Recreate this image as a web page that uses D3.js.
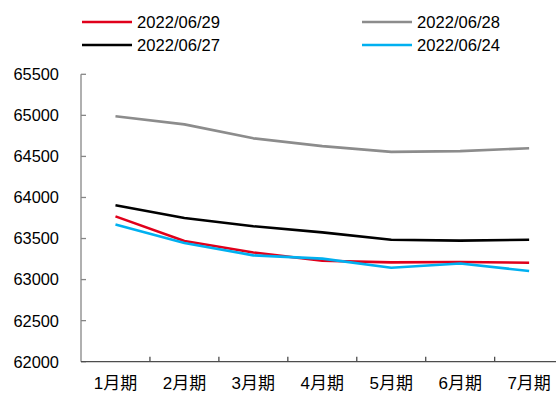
<!DOCTYPE html>
<html>
<head>
<meta charset="utf-8">
<script src="https://cdn.jsdelivr.net/npm/d3@7"></script>
<style>
  html, body { margin: 0; padding: 0; background: #fff; }
  svg { display: block; }
  text { font-family: "Liberation Sans", "Noto Sans CJK SC", sans-serif; fill: #000; }
</style>
</head>
<body>
<svg id="chart" width="556" height="394"></svg>
<script>
// Contract months on the x axis
const categories = ["1月期", "2月期", "3月期", "4月期", "5月期", "6月期", "7月期"];

// Curve snapshots by trade date
const seriesNames = ["2022/06/29", "2022/06/28", "2022/06/27", "2022/06/24"];
const values0629 = [63770, 63470, 63330, 63230, 63210, 63215, 63205];
const values0628 = [64990, 64890, 64720, 64625, 64555, 64565, 64600];
const values0627 = [63905, 63750, 63650, 63575, 63485, 63475, 63485];
const values0624 = [63670, 63445, 63295, 63255, 63145, 63195, 63105];
const seriesColors = ["#e0001b", "#8c8c8c", "#000000", "#00b0f0"];

// Y axis ticks
const yTicks = [62000, 62500, 63000, 63500, 64000, 64500, 65000, 65500];

const seriesValues = [values0629, values0628, values0627, values0624];
const series = seriesNames.map((name, i) => ({ name, values: seriesValues[i], color: seriesColors[i] }));

const svg = d3.select("#chart");
const plotLeft = 81, plotTop = 74.3, plotBottom = 361.7, plotRight = 563.6;

const x = d3.scaleBand().domain(categories).range([plotLeft, plotRight]).paddingInner(0).paddingOuter(0);
const y = d3.scaleLinear().domain([62000, 65500]).range([plotBottom, plotTop]);
const cx = c => x(c) + x.bandwidth() / 2;

const axisColor = "#868686";

// Y axis line and inward ticks
svg.append("line")
  .attr("x1", plotLeft).attr("x2", plotLeft).attr("y1", y(65500)).attr("y2", y(62000))
  .attr("stroke", axisColor).attr("stroke-width", 1.3);
svg.append("g").selectAll("line").data(yTicks).join("line")
  .attr("x1", plotLeft).attr("x2", plotLeft + 5)
  .attr("y1", d => y(d)).attr("y2", d => y(d))
  .attr("stroke", axisColor).attr("stroke-width", 1.3);
svg.append("g").selectAll("text").data(yTicks).join("text")
  .attr("x", 59).attr("y", d => y(d)).attr("dy", "0.36em")
  .attr("text-anchor", "end").attr("font-size", 16.4)
  .text(d => d);

// X axis line with ticks between categories
svg.append("line")
  .attr("x1", plotLeft).attr("x2", plotRight).attr("y1", plotBottom).attr("y2", plotBottom)
  .attr("stroke", "#4d4d4d").attr("stroke-width", 1.3);
svg.append("g").selectAll("line").data(categories.slice(1)).join("line")
  .attr("x1", d => x(d)).attr("x2", d => x(d))
  .attr("y1", plotBottom).attr("y2", plotBottom - 5)
  .attr("stroke", "#4d4d4d").attr("stroke-width", 1.3);
const xl = svg.append("g").selectAll("text").data(categories).join("text")
  .attr("x", d => cx(d)).attr("y", 389)
  .attr("text-anchor", "middle").attr("font-size", 17)
  .text(d => d);
// keep the last label inside the canvas
xl.each(function () {
  const w = this.getComputedTextLength();
  const xc = +this.getAttribute("x");
  if (xc + w / 2 > 552) this.setAttribute("x", 552 - w / 2);
});

// Series lines
const line = d3.line().x((d, i) => cx(categories[i])).y(d => y(d));
const drawOrder = [1, 2, 0, 3];
svg.append("g").selectAll("path").data(drawOrder.map(i => series[i])).join("path")
  .attr("d", d => line(d.values))
  .attr("fill", "none").attr("stroke", d => d.color)
  .attr("stroke-width", 2.6).attr("stroke-linejoin", "round");

// Legend, two columns
const legendPos = [
  { lx: 82, ly: 22 }, { lx: 362, ly: 22 },
  { lx: 82, ly: 45 }, { lx: 362, ly: 45 }
];
const lg = svg.append("g").selectAll("g").data(series).join("g")
  .attr("transform", (d, i) => `translate(${legendPos[i].lx},${legendPos[i].ly})`);
lg.append("line").attr("x1", 0).attr("x2", 50).attr("y1", 0).attr("y2", 0)
  .attr("stroke", d => d.color).attr("stroke-width", 2.6);
lg.append("text").attr("x", 55).attr("y", 0).attr("dy", "0.36em")
  .attr("font-size", 16.6).text(d => d.name);
</script>
</body>
</html>
